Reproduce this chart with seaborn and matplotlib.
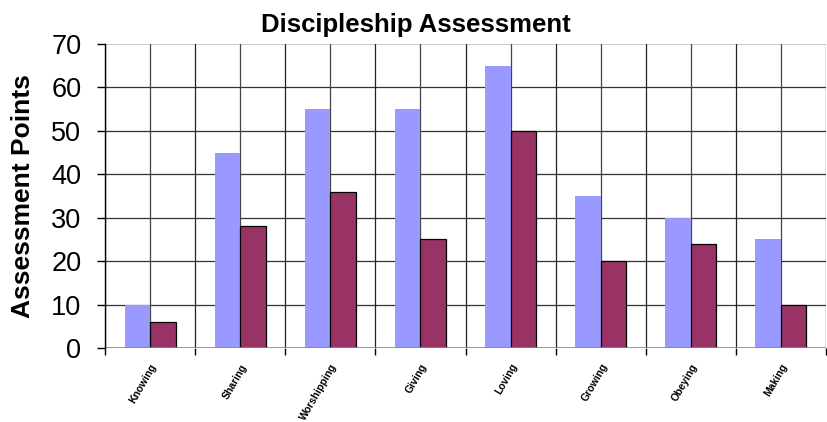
import numpy as np
import pandas as pd
import matplotlib
matplotlib.use("Agg")
import matplotlib.pyplot as plt
from matplotlib.ticker import FixedLocator
import seaborn as sns

# ── Data ──────────────────────────────────────────────
categories = ["Knowing", "Sharing", "Worshipping", "Giving",
              "Loving", "Growing", "Obeying", "Making"]
series_a = [10, 45, 55, 55, 65, 35, 30, 25]
series_b = [6, 28, 36, 25, 50, 20, 24, 10]
series_names = ["Series A", "Series B"]
colors = ["#9999FF", "#993366"]
y_ticks = [0, 10, 20, 30, 40, 50, 60, 70]

df = pd.DataFrame({
    "Category": categories * 2,
    "Points": series_a + series_b,
    "Series": [series_names[0]] * len(categories) + [series_names[1]] * len(categories),
})

sns.set_style("white")
plt.rcParams["font.family"] = ["Liberation Sans", "DejaVu Sans"]
for key in ["text.color", "axes.labelcolor", "xtick.color", "ytick.color"]:
    plt.rcParams[key] = "black"

fig = plt.figure(figsize=(8.28, 4.22), dpi=100)
ax = fig.add_axes([0.1268, 0.1754, 0.8708, 0.7203])

sns.barplot(data=df, x="Category", y="Points", hue="Series",
            order=categories, hue_order=series_names, palette=colors,
            width=0.565, saturation=1, ax=ax, legend=False, zorder=3)

# first series without outline, second with a black outline
for bar in ax.containers[0]:
    bar.set_edgecolor("none")
for bar in ax.containers[1]:
    bar.set_edgecolor("black")
    bar.set_linewidth(0.9)

ax.set_xlim(-0.5, len(categories) - 0.5)
ax.set_ylim(0, 70)
ax.set_yticks(y_ticks)
ax.set_yticklabels([str(t) for t in y_ticks], fontsize=19.5)

# grid: horizontal at each 10, vertical at category centres and boundaries
for t in y_ticks[1:-1]:
    ax.axhline(t, color="#333333", lw=0.9, zorder=1)
ax.axhline(70, color="#C0C0C0", lw=1.2, zorder=1)
ax.axhline(0, color="#888888", lw=1.2, zorder=4)
for i in range(len(categories)):
    ax.axvline(i, color="#444444", lw=0.9, zorder=1)
for b in np.arange(-0.5, len(categories), 1.0):
    ax.axvline(b, color="#222222", lw=0.9, zorder=1)

ax.set_xticks(range(len(categories)))
ax.set_xticklabels(categories, rotation=60, ha="right", rotation_mode="anchor",
                   fontsize=7.5, fontweight="bold")
ax.tick_params(axis="x", which="major", length=0, pad=10)
ax.xaxis.set_minor_locator(FixedLocator(np.arange(-0.5, len(categories), 1.0)))
ax.tick_params(axis="x", which="minor", length=5, width=1, color="black", direction="out", bottom=True)
ax.tick_params(axis="y", length=6, width=1, color="black", direction="out", left=True, pad=11)

for side in ["top", "right", "bottom"]:
    ax.spines[side].set_visible(False)
ax.spines["left"].set_color("black")
ax.spines["left"].set_linewidth(1)
ax.spines["left"].set_zorder(5)

ax.set_xlabel("")
ax.set_ylabel("Assessment Points", fontsize=19, fontweight="bold")
ax.yaxis.set_label_coords(-0.097, 0.5)
fig.text(0.5024, 0.94, "Discipleship Assessment", ha="center", va="center",
         fontsize=18.5, fontweight="bold")

fig.savefig("out.png", dpi=100)
